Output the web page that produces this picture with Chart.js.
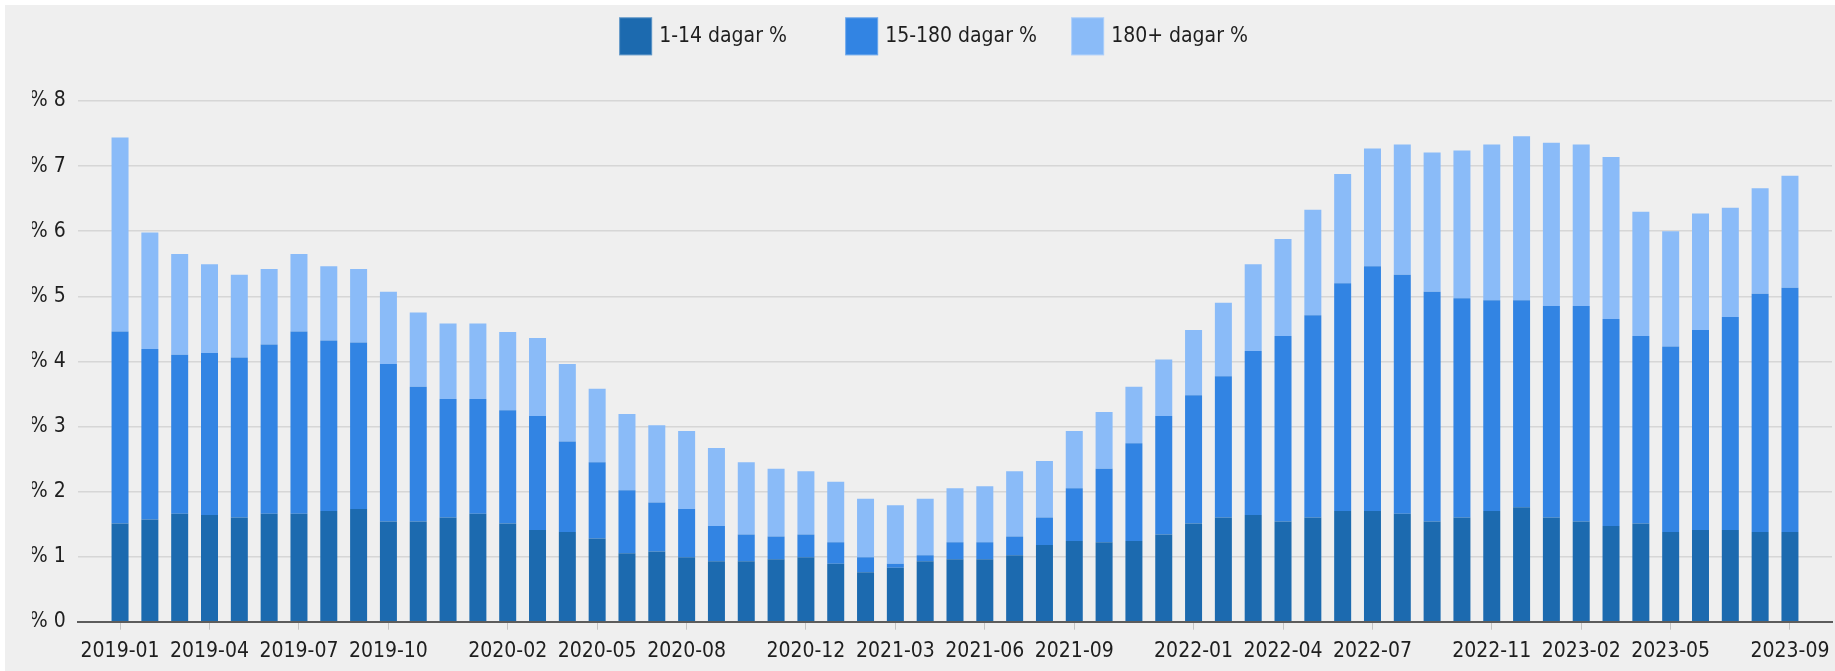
<!DOCTYPE html>
<html><head><meta charset="utf-8">
<script src="https://cdn.jsdelivr.net/npm/chart.js@4"></script>
<style>
html,body{margin:0;padding:0;background:#fff;width:1835px;height:671px;overflow:hidden}
#wrap{position:absolute;left:5px;top:5px;width:1830px;height:666px;background:#efefef}
canvas{display:block}
</style></head><body>
<div id="wrap"><canvas id="c" width="1830" height="666"></canvas></div>
<script>
const months = ['2019-01','2019-02','2019-03','2019-04','2019-05','2019-06','2019-07','2019-08','2019-09','2019-10','2019-11','2019-12',
'2020-01','2020-02','2020-03','2020-04','2020-05','2020-06','2020-07','2020-08','2020-09','2020-10','2020-11','2020-12',
'2021-01','2021-02','2021-03','2021-04','2021-05','2021-06','2021-07','2021-08','2021-09','2021-10','2021-11','2021-12',
'2022-01','2022-02','2022-03','2022-04','2022-05','2022-06','2022-07','2022-08','2022-09','2022-10','2022-11','2022-12',
'2023-01','2023-02','2023-03','2023-04','2023-05','2023-06','2023-07','2023-08','2023-09'];
const tickLabels = ['2019-01','2019-04','2019-07','2019-10','2020-02','2020-05','2020-08','2020-12','2021-03','2021-06','2021-09','2022-01','2022-04','2022-07','2022-11','2023-02','2023-05','2023-09'];
const days1to14 = [1.51,1.57,1.66,1.64,1.60,1.66,1.66,1.70,1.73,1.54,1.54,1.60,1.66,1.51,1.41,1.38,1.28,1.05,1.08,0.99,0.93,0.93,0.96,0.99,0.89,0.76,0.83,0.93,0.96,0.96,1.02,1.18,1.24,1.22,1.24,1.34,1.51,1.60,1.64,1.54,1.60,1.70,1.70,1.66,1.54,1.60,1.70,1.76,1.60,1.54,1.47,1.51,1.38,1.41,1.41,1.38,1.38];
const days15to180 = [2.95,2.62,2.44,2.49,2.46,2.60,2.80,2.62,2.56,2.42,2.07,1.82,1.76,1.74,1.75,1.39,1.17,0.97,0.75,0.74,0.54,0.41,0.35,0.35,0.33,0.23,0.06,0.09,0.26,0.26,0.29,0.42,0.81,1.13,1.50,1.82,1.97,2.17,2.52,2.85,3.11,3.50,3.76,3.67,3.53,3.37,3.24,3.18,3.25,3.31,3.18,2.88,2.85,3.07,3.27,3.66,3.75];
const days180plus = [2.98,1.79,1.55,1.36,1.27,1.16,1.19,1.14,1.13,1.11,1.14,1.16,1.16,1.20,1.20,1.19,1.13,1.17,1.19,1.20,1.20,1.11,1.04,0.97,0.93,0.90,0.90,0.87,0.83,0.86,1.00,0.87,0.88,0.87,0.87,0.87,1.00,1.13,1.33,1.49,1.62,1.68,1.81,2.00,2.14,2.27,2.39,2.52,2.51,2.48,2.49,1.91,1.77,1.79,1.68,1.62,1.72];
const seriesNames = ['1-14 dagar %','15-180 dagar %','180+ dagar %'];
const seriesColors = ['#1c6aaf','#3284e3','#8abbf8'];

const FONT = '"DejaVu Sans Condensed", "Liberation Sans", sans-serif';
const TEXT = '#1e1e1e';

const toPoints = arr => arr.map((v, i) => ({x: i, y: v}));

const slotLegend = {
  id: 'slotLegend',
  afterDraw(chart, args, o) {
    const ctx = chart.ctx;
    ctx.save();
    ctx.font = o.size + 'px ' + FONT;
    const ds = chart.data.datasets;
    const lastW = ctx.measureText(ds[ds.length - 1].label).width;
    const total = (ds.length - 1) * o.slot + o.boxW + o.gap + lastW;
    let x = o.center - total / 2;
    ds.forEach(d => {
      ctx.fillStyle = d.backgroundColor;
      ctx.fillRect(x, o.top, o.boxW, o.boxH);
      ctx.strokeStyle = 'rgba(255,255,255,0.3)';
      ctx.lineWidth = 1;
      ctx.strokeRect(x + 0.5, o.top + 0.5, o.boxW - 1, o.boxH - 1);
      ctx.fillStyle = TEXT;
      ctx.textBaseline = 'middle';
      ctx.textAlign = 'left';
      ctx.fillText(d.label, x + o.boxW + o.gap, o.top + o.boxH / 2);
      x += o.slot;
    });
    ctx.restore();
  }
};

new Chart(document.getElementById('c'), {
  type: 'bar',
  data: {
    datasets: [
      {label: seriesNames[0], data: toPoints(days1to14), backgroundColor: seriesColors[0]},
      {label: seriesNames[1], data: toPoints(days15to180), backgroundColor: seriesColors[1]},
      {label: seriesNames[2], data: toPoints(days180plus), backgroundColor: seriesColors[2]}
    ]
  },
  options: {
    responsive: false,
    devicePixelRatio: 1,
    animation: false,
    layout: {padding: {top: 96, left: 27, right: 3, bottom: 0}},
    plugins: {
      legend: {display: false},
      tooltip: {enabled: false},
      slotLegend: {center: 928.5, top: 12.3, slot: 226, boxW: 33, boxH: 38, gap: 7, size: 21}
    },
    datasets: {bar: {barPercentage: 0.57, categoryPercentage: 1, borderWidth: 0}},
    scales: {
      x: {
        type: 'linear', stacked: true, min: -1.42, max: 57.41, offset: false,
        afterBuildTicks: s => { s.ticks = tickLabels.map(l => ({value: months.indexOf(l)})); },
        afterFit: s => { s.height = 49.3; s.paddingLeft = 0; s.paddingRight = 0; },
        ticks: {autoSkip: false, maxRotation: 0, minRotation: 0, padding: 9, color: TEXT,
                font: {family: FONT, size: 21}, callback: v => months[v]},
        grid: {offset: false, drawOnChartArea: false, drawTicks: true, tickLength: 8, color: '#c4c4c4', lineWidth: 1},
        border: {display: true, color: '#5c5c5c', width: 2}
      },
      y: {
        stacked: true, min: 0, max: 8,
        afterFit: s => { s.width = 45.7; s.paddingTop = 0; s.paddingBottom = 0; },
        ticks: {stepSize: 1, padding: 12, color: TEXT, font: {family: FONT, size: 21}, callback: v => '% ' + v},
        grid: {drawTicks: false, lineWidth: 1.5,
               color: c => (c.tick && c.tick.value === 0) ? 'rgba(0,0,0,0)' : '#d6d6d6'},
        border: {display: false}
      }
    }
  },
  plugins: [slotLegend]
});
</script>
</body></html>
